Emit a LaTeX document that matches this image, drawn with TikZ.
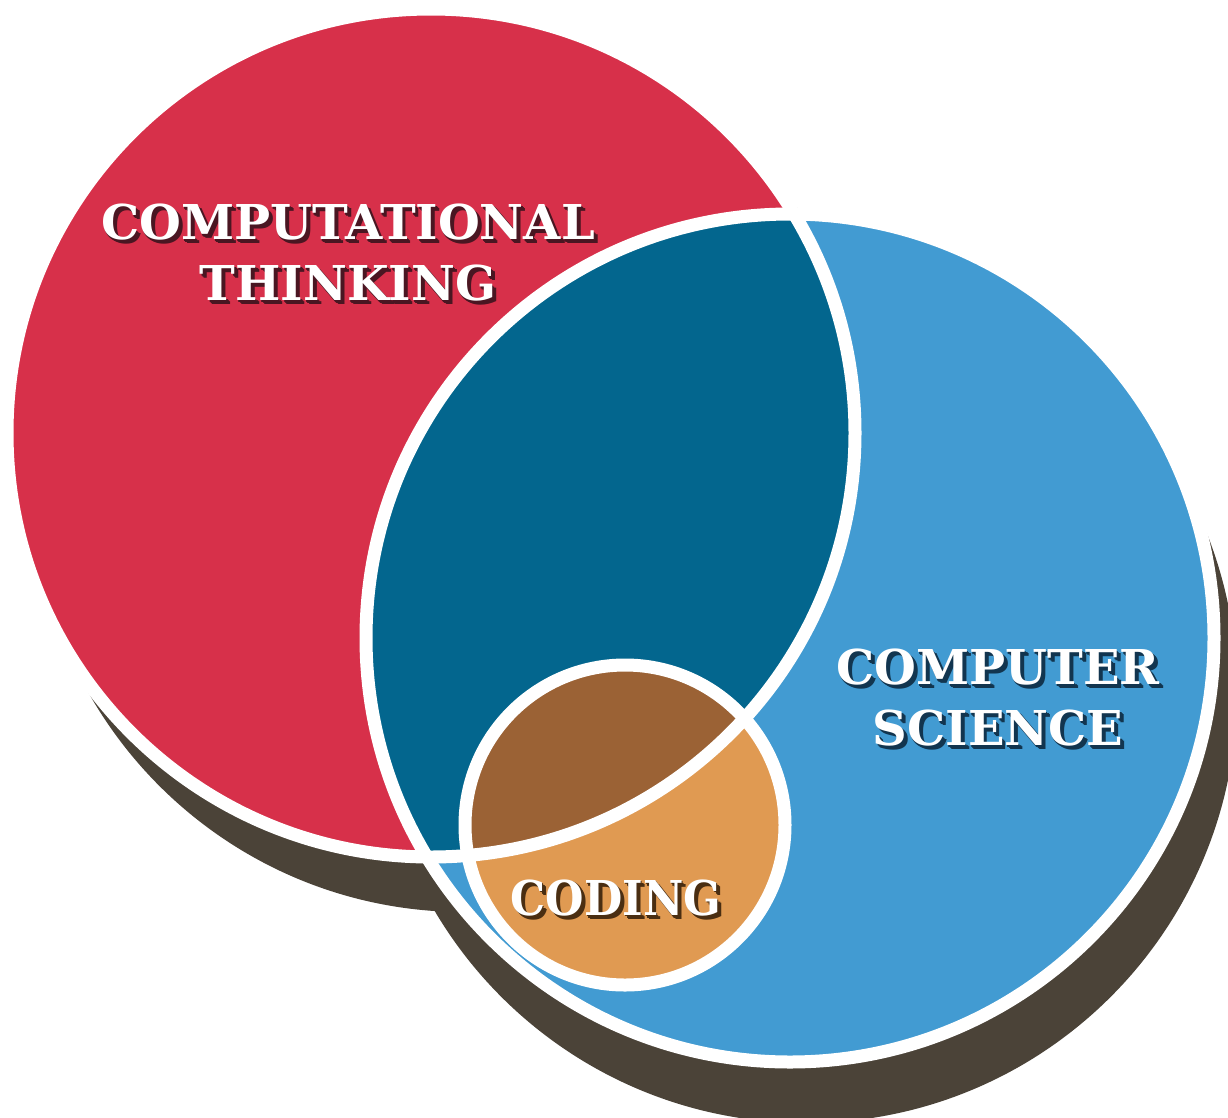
\documentclass[tikz,border=0pt]{standalone}
\usepackage{fontspec}
\newfontfamily\slabfont{DejaVu Serif}
\definecolor{ctred}{HTML}{D7304A}
\definecolor{csblue}{HTML}{429BD2}
\definecolor{lensblue}{HTML}{03668E}
\definecolor{codebrown}{HTML}{9B6235}
\definecolor{codeorange}{HTML}{E09A52}
\definecolor{dropshade}{HTML}{4B4338}
\definecolor{redshade}{HTML}{4A1622}
\definecolor{blueshade}{HTML}{12354F}
\definecolor{brownshade}{HTML}{4A2E12}
\tikzset{
  ring/.style={draw=white, line width=13pt},
  lbltxt/.style={font=\slabfont\bfseries\fontsize{48}{61}\selectfont, align=center, inner sep=0pt},
}
\newcommand\extrudedlabel[5]{%
  \foreach \k in {1,...,3}{\node[lbltxt, xscale=#5, text=#3] at ([shift={(\k*1.3,\k*1.3)}]#2) {#4};}
  \node[lbltxt, xscale=#5, text=white] (#1) at (#2) {#4};}
\begin{document}
\begin{tikzpicture}[x=1pt,y=-1pt]
\useasboundingbox (0,0) rectangle (1228,1117);
\coordinate (cR) at (431,433);
\coordinate (cB) at (790,638);
\coordinate (cC) at (625,825);
\coordinate (sR) at (464,481);
\coordinate (sB) at (806,692);
% drop shadows
\fill[dropshade] (sR) circle[radius=431pt];
\fill[dropshade] (sB) circle[radius=431pt];
% main circles
\fill[ctred] (cR) circle[radius=424pt];
\fill[csblue] (cB) circle[radius=424pt];
\begin{scope}
  \clip (cR) circle[radius=424pt];
  \fill[lensblue] (cB) circle[radius=424pt];
\end{scope}
\fill[codeorange] (cC) circle[radius=160pt];
\begin{scope}
  \clip (cR) circle[radius=424pt];
  \fill[codebrown] (cC) circle[radius=160pt];
\end{scope}
% white outlines
\draw[ring] (cR) circle[radius=424pt];
\draw[ring] (cB) circle[radius=424pt];
\draw[ring] (cC) circle[radius=160pt];
% labels
\coordinate (pCT) at (348,253);
\coordinate (pCS) at (998,698);
\coordinate (pCO) at (616,898);
\extrudedlabel{ct}{pCT}{redshade}{COMPUTATIONAL\\THINKING}{1.0}
\extrudedlabel{cs}{pCS}{blueshade}{COMPUTER\\SCIENCE}{1.0}
\extrudedlabel{co}{pCO}{brownshade}{CODING}{0.92}
\end{tikzpicture}
\end{document}
